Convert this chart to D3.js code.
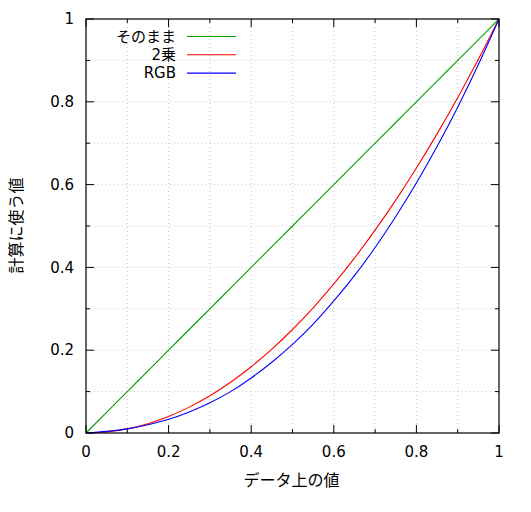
<!DOCTYPE html>
<html>
<head>
<meta charset="utf-8">
<script src="https://cdn.jsdelivr.net/npm/d3@7"></script>
<style>
  body { margin: 0; background: #fff; }
  text { font-family: 'DejaVu Sans', 'Noto Sans CJK JP', sans-serif; fill: #000; }
  .jp { font-family: 'Noto Sans CJK JP', sans-serif; }
  .grid line { stroke: #c8c8c8; stroke-dasharray: 1,3; }
</style>
</head>
<body>
<div id="chart"></div>
<script>
// input values on the x axis
const xValues = [0, 0.05, 0.1, 0.15, 0.2, 0.25, 0.3, 0.35, 0.4, 0.45, 0.5,
                 0.55, 0.6, 0.65, 0.7, 0.75, 0.8, 0.85, 0.9, 0.95, 1];

// そのまま (as is)
const identityValues = [0, 0.05, 0.1, 0.15, 0.2, 0.25, 0.3, 0.35, 0.4, 0.45, 0.5,
                        0.55, 0.6, 0.65, 0.7, 0.75, 0.8, 0.85, 0.9, 0.95, 1];

// 2乗 (squared)
const squareValues = [0, 0.0025, 0.01, 0.0225, 0.04, 0.0625, 0.09, 0.1225, 0.16, 0.2025, 0.25,
                      0.3025, 0.36, 0.4225, 0.49, 0.5625, 0.64, 0.7225, 0.81, 0.9025, 1];

// RGB (gamma)
const rgbValues = [0, 0.004, 0.010, 0.020, 0.033, 0.051, 0.073, 0.100, 0.133, 0.171, 0.214,
                   0.263, 0.319, 0.380, 0.448, 0.523, 0.604, 0.692, 0.787, 0.890, 1];

const seriesNames = ['そのまま', '2乗', 'RGB'];
const seriesColors = ['#00a000', '#ff0000', '#0000ff'];

const majorTicks = [0, 0.2, 0.4, 0.6, 0.8, 1];
const allTicks = [0, 0.1, 0.2, 0.3, 0.4, 0.5, 0.6, 0.7, 0.8, 0.9, 1];
const tickLabels = ['0', '0.2', '0.4', '0.6', '0.8', '1'];

const xTitle = 'データ上の値';
const yTitle = '計算に使う値';

const config = {
  width: 531, height: 512,
  margin: {top: 19, right: 32, bottom: 79, left: 86}
};
const innerW = config.width - config.margin.left - config.margin.right;
const innerH = config.height - config.margin.top - config.margin.bottom;

const svg = d3.select('#chart').append('svg')
    .attr('width', config.width)
    .attr('height', config.height);

const g = svg.append('g')
    .attr('transform', `translate(${config.margin.left},${config.margin.top})`);

const x = d3.scaleLinear().domain([0, 1]).range([0, innerW]);
const y = d3.scaleLinear().domain([0, 1]).range([innerH, 0]);

// dotted grid at every 0.1
const grid = g.append('g').attr('class', 'grid');
grid.selectAll('.gx')
    .data(allTicks.slice(1, -1))
  .join('line')
    .attr('class', 'gx')
    .attr('x1', d => x(d)).attr('x2', d => x(d))
    .attr('y1', 0).attr('y2', innerH);
grid.selectAll('.gy')
    .data(allTicks.slice(1, -1))
  .join('line')
    .attr('class', 'gy')
    .attr('y1', d => y(d)).attr('y2', d => y(d))
    .attr('x1', 0).attr('x2', innerW);

// ticks on all four sides, pointing inward
const tickLen = d => majorTicks.includes(d) ? 8 : 4;
const ticks = g.append('g').attr('stroke', '#000').attr('stroke-width', 1);
allTicks.forEach(d => {
  ticks.append('line').attr('x1', x(d)).attr('x2', x(d)).attr('y1', innerH).attr('y2', innerH - tickLen(d));
  ticks.append('line').attr('x1', x(d)).attr('x2', x(d)).attr('y1', 0).attr('y2', tickLen(d));
  ticks.append('line').attr('y1', y(d)).attr('y2', y(d)).attr('x1', 0).attr('x2', tickLen(d));
  ticks.append('line').attr('y1', y(d)).attr('y2', y(d)).attr('x1', innerW).attr('x2', innerW - tickLen(d));
});

// tick labels
g.selectAll('.xlabel')
    .data(majorTicks)
  .join('text')
    .attr('class', 'xlabel')
    .attr('x', d => x(d))
    .attr('y', innerH + 19)
    .attr('dy', '0.35em')
    .attr('text-anchor', 'middle')
    .attr('font-size', 15)
    .text((d, i) => tickLabels[i]);

g.selectAll('.ylabel')
    .data(majorTicks)
  .join('text')
    .attr('class', 'ylabel')
    .attr('x', -12)
    .attr('y', d => y(d))
    .attr('dy', '0.35em')
    .attr('text-anchor', 'end')
    .attr('font-size', 15)
    .text((d, i) => tickLabels[i]);

// curves
const series = [identityValues, squareValues, rgbValues];
const line = d3.line()
    .x((d, i) => x(xValues[i]))
    .y(d => y(d))
    .curve(d3.curveMonotoneX);

g.selectAll('.curve')
    .data(series)
  .join('path')
    .attr('class', 'curve')
    .attr('fill', 'none')
    .attr('stroke', (d, i) => seriesColors[i])
    .attr('stroke-width', 1.1)
    .attr('d', line);

// border
g.append('rect')
    .attr('width', innerW).attr('height', innerH)
    .attr('fill', 'none').attr('stroke', '#000').attr('stroke-width', 1.2);

// legend (Latin font first keeps the line box small enough for the row gap)
const legend = g.append('g').attr('transform', 'translate(0,17.5)');
seriesNames.forEach((name, i) => {
  const row = legend.append('g').attr('transform', `translate(0,${i * 18.3})`);
  row.append('text')
      .attr('x', 90)
      .attr('dy', '0.35em')
      .attr('text-anchor', 'end')
      .attr('font-size', 15)
      .text(name);
  row.append('line')
      .attr('x1', 101).attr('x2', 150)
      .attr('stroke', seriesColors[i]).attr('stroke-width', 1.1);
});

// axis titles
g.append('text')
    .attr('class', 'jp')
    .attr('x', innerW / 2 - 1)
    .attr('y', innerH + 47)
    .attr('dy', '0.35em')
    .attr('text-anchor', 'middle')
    .attr('font-size', 16)
    .text(xTitle);

g.append('text')
    .attr('class', 'jp')
    .attr('transform', `translate(${-70},${innerH / 2 - 0.5}) rotate(-90)`)
    .attr('dy', '0.35em')
    .attr('text-anchor', 'middle')
    .attr('font-size', 16)
    .text(yTitle);
</script>
</body>
</html>
